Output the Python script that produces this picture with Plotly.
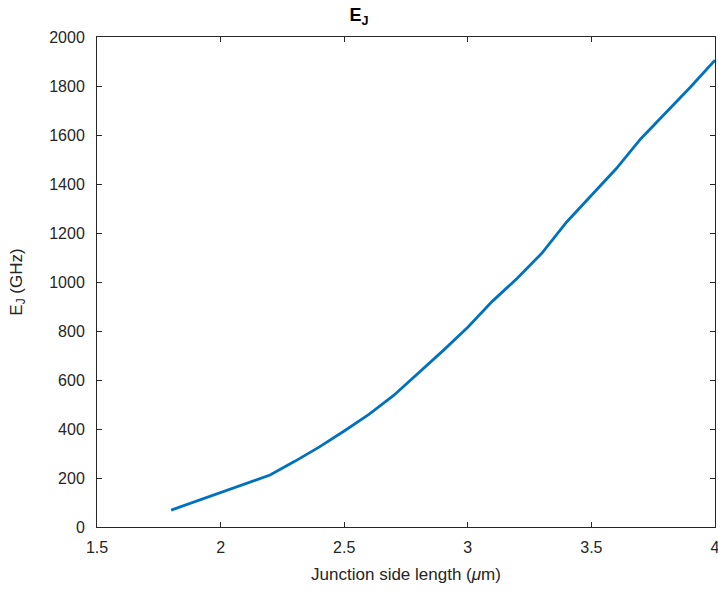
import plotly.graph_objects as go

side_length = [1.8, 1.9, 2.0, 2.1, 2.2, 2.3, 2.4, 2.5, 2.6, 2.7, 2.8, 2.9, 3.0,
               3.1, 3.2, 3.3, 3.4, 3.5, 3.6, 3.7, 3.8, 3.9, 4.0]
ej_ghz = [69, 105, 143, 178, 212, 268, 327, 392, 460, 537, 628, 720, 815,
          922, 1015, 1118, 1245, 1355, 1462, 1585, 1688, 1795, 1905]
x_ticks = [1.5, 2, 2.5, 3, 3.5, 4]
x_labels = ["1.5", "2", "2.5", "3", "3.5", "4"]
y_ticks = list(range(0, 2001, 200))

font = "Liberation Sans, Arial, Helvetica, sans-serif"
fig = go.Figure()
fig.add_trace(go.Scatter(x=side_length, y=ej_ghz, mode="lines",
                         line=dict(color="#0072BD", width=2.8), showlegend=False))

axis_common = dict(showline=True, linecolor="#262626", linewidth=1, mirror="ticks",
                   ticks="inside", ticklen=5, tickcolor="#262626", showgrid=False,
                   zeroline=False, ticklabeloverflow="allow", automargin=False,
                   tickfont=dict(family=font, size=16, color="#262626"))
fig.update_xaxes(range=[1.5, 4], tickvals=x_ticks, ticktext=x_labels, ticklabelstandoff=6,
                 title=dict(text="Junction side length (<i>μ</i>m)", font=dict(family=font, size=17, color="#262626"), standoff=12),
                 **axis_common)
fig.update_yaxes(range=[0, 2000], tickvals=y_ticks, ticklabelstandoff=8,
                 title=dict(text="E<sub>J</sub> (GHz)", font=dict(family=font, size=17, color="#262626"), standoff=22),
                 **axis_common)
fig.update_layout(
    width=718, height=592,
    margin=dict(l=97, r=3, t=37, b=65),
    paper_bgcolor="white", plot_bgcolor="white",
    title=dict(text="<b>E<sub>J</sub></b>", x=0.5, xanchor="center", y=0.985, yanchor="top",
               font=dict(family=font, size=18, color="black")),
)
html = fig.to_html(include_plotlyjs=True, full_html=True, config={"displayModeBar": False})
html = html.replace("<head>", "<head><style>html,body{margin:0;padding:0;overflow:hidden;}</style>", 1)
with open("out.html", "w", encoding="utf-8") as f:
    f.write(html)
